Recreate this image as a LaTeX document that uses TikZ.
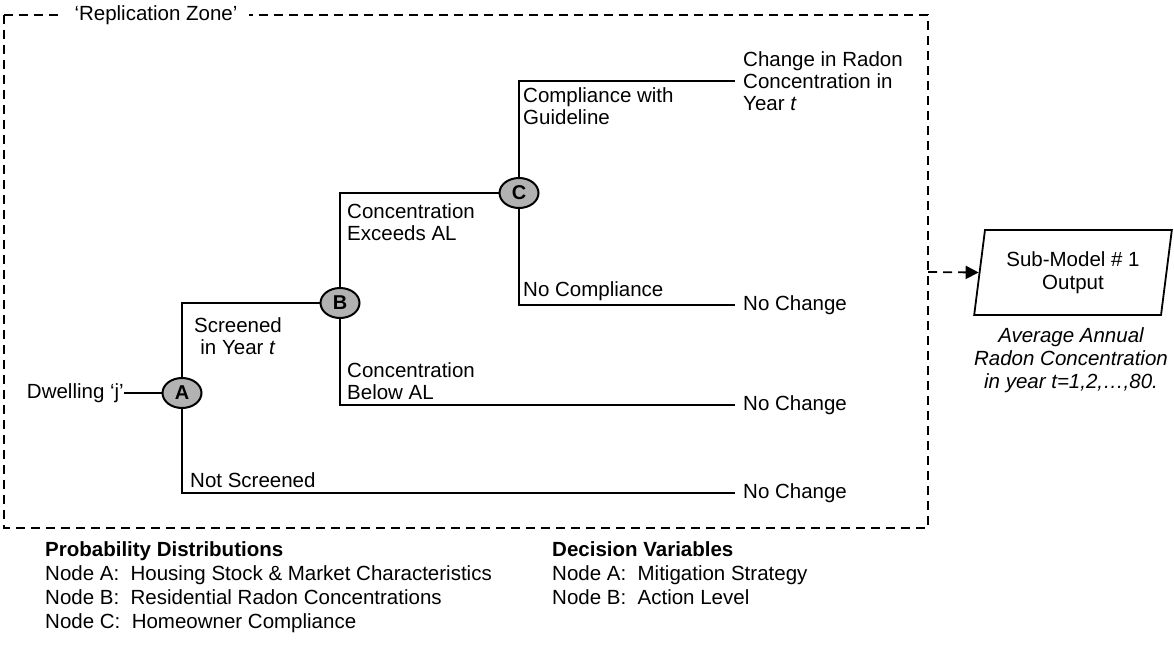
\documentclass[tikz,border=0pt]{standalone}
\usepackage{fontspec}
\setmainfont{Liberation Sans}
\usepackage{tikz}
\usetikzlibrary{arrows.meta, positioning, shapes.geometric}

\begin{document}
\begin{tikzpicture}[
  x=1pt, y=-1pt,
  chance/.style = {
    ellipse, draw=black, fill=black!30, line width=2pt,
    minimum width=39pt, minimum height=30pt, inner sep=0pt,
    font=\bfseries\fontsize{20}{20}\selectfont
  },
  lbl/.style    = {font=\fontsize{20.5}{22}\selectfont, align=left, inner sep=0pt},
  endlbl/.style = {lbl, anchor=west, inner xsep=8pt},
  legend/.style = {font=\fontsize{20.5}{24}\selectfont, align=left, inner sep=0pt, anchor=north west},
  outbox/.style = {
    trapezium, trapezium left angle=79, trapezium right angle=101,
    trapezium stretches=true, draw=black, line width=1.8pt,
    minimum width=198pt, minimum height=85pt, inner sep=0pt,
    font=\fontsize{20.5}{23}\selectfont, align=center
  },
  branch/.style = {line width=1.8pt},
  zone/.style   = {line width=1.8pt, dash pattern=on 9pt off 6pt}
]
  \useasboundingbox (0,0) rectangle (1174,650);

  % replication zone
  \draw[zone] (4,15) rectangle (928,528);
  \node[lbl, fill=white, inner xsep=12pt, inner ysep=3pt] (zonelbl) at (156,15) {‘Replication Zone’};

  % chance nodes
  \node[chance] (A) at (182,393) {A};
  \node[chance] (B) at (340,303) {B};
  \node[chance] (C) at (519,193) {C};

  \node[lbl, anchor=east] (dw) at (124,393) {Dwelling ‘j’};

  % outcomes
  \node[endlbl] (chg) at (735,81)  {Change in Radon\\Concentration in\\Year \textit{t}};
  \node[endlbl] (nc1) at (735,305) {No Change};
  \node[endlbl] (nc2) at (735,405) {No Change};
  \node[endlbl] (nc3) at (735,493) {No Change};

  \draw[branch] (dw) -- (A);
  \draw[branch] (A) |- (B);
  \draw[branch] (A) |- (nc3);
  \draw[branch] (B) |- (C);
  \draw[branch] (B) |- (nc2);
  \draw[branch] (C) |- (chg);
  \draw[branch] (C) |- (nc1);

  % branch labels
  \node[lbl, anchor=north west] (comp)   at (523,87)  {Compliance with\\Guideline};
  \node[lbl, anchor=south west] (nocomp) at (523,301) {No Compliance};
  \node[lbl, anchor=north west] (exc)    at (347,203) {Concentration\\Exceeds AL};
  \node[lbl, anchor=south west] (blw)    at (347,400) {Concentration\\Below AL};
  \node[lbl, anchor=north, align=center] (scr) at (238,317) {Screened\\in Year \textit{t}};
  \node[lbl, anchor=south west] (nscr)   at (190,488) {Not Screened};

  % output
  \node[outbox] (out) at (1073,272.5) {Sub-Model \# 1\\Output};
  \node[lbl, anchor=north, align=center, font=\itshape\fontsize{20.5}{23}\selectfont]
    (avg) at (1071,327) {Average Annual\\Radon Concentration\\in year t=1,2,…,80.};
  \coordinate (zoneR) at (928,272);
  \draw[zone, -{Triangle[length=13pt, width=13pt]}] (zoneR) -- (out.west);

  % legends
  \node[legend] (prob) at (45,541) {\textbf{Probability Distributions}\\
    Node A:~~Housing Stock \& Market Characteristics\\
    Node B:~~Residential Radon Concentrations\\
    Node C:~~Homeowner Compliance};
  \node[legend] (dec) at (552,541) {\textbf{Decision Variables}\\
    Node A:~~Mitigation Strategy\\
    Node B:~~Action Level};
\end{tikzpicture}
\end{document}
